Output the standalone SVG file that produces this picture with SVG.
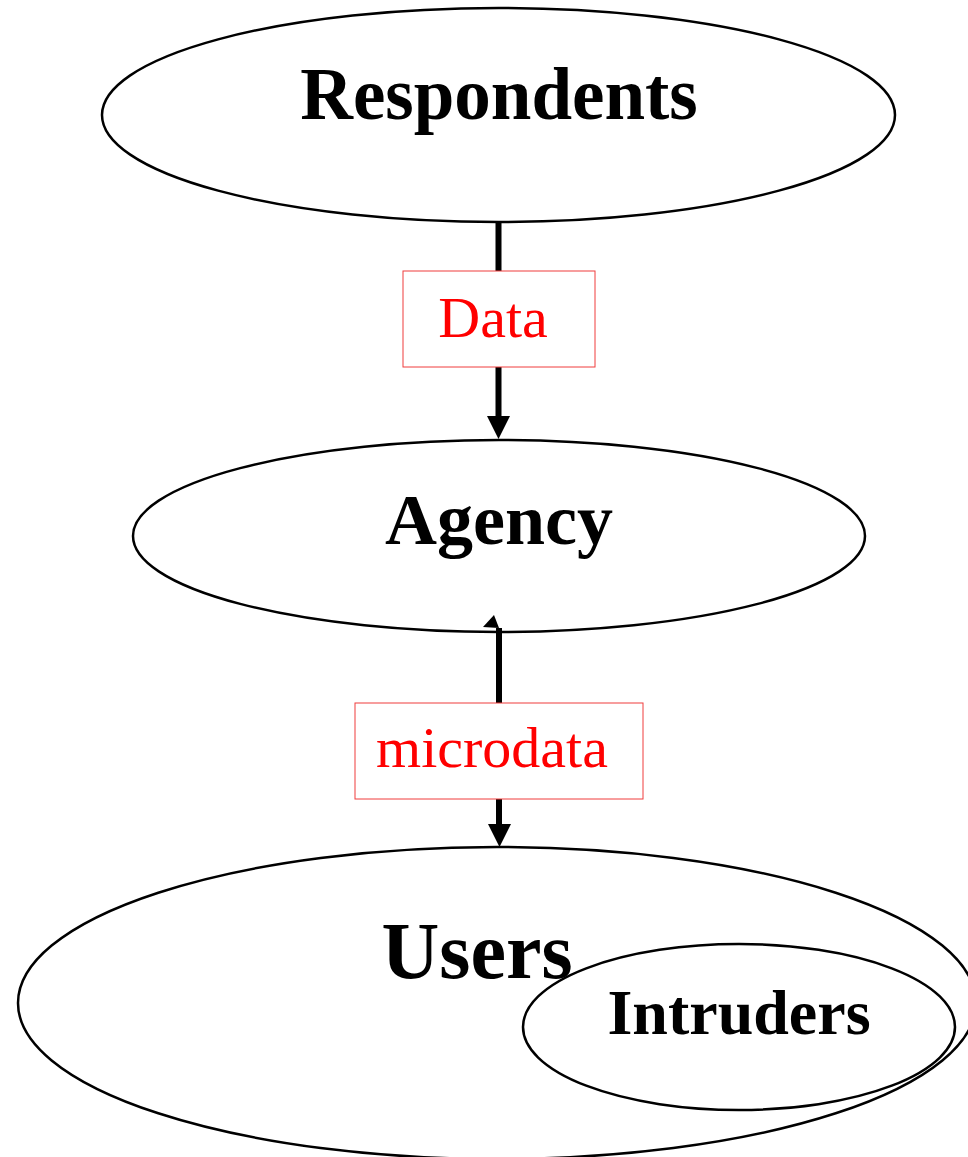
<svg xmlns="http://www.w3.org/2000/svg" width="968" height="1157" viewBox="0 0 968 1157">
  <style>
    .node { fill: #fff; stroke: #000; stroke-width: 2.5; }
    .title { font-family: "Liberation Serif", "Times New Roman", serif; font-weight: bold; fill: #000; text-anchor: middle; }
    .lbox { fill: #fff; stroke: #f03c3c; stroke-width: 1; }
    .ltext { font-family: "Liberation Serif", "Times New Roman", serif; fill: #ff0000; font-size: 58px; text-anchor: middle; }
    .edge { stroke: #000; stroke-width: 6; fill: none; }
    .head { fill: #000; }
  </style>
  <rect width="968" height="1157" fill="#fff"/>

  <g id="respondents">
    <ellipse class="node" cx="498.5" cy="115" rx="396.5" ry="107"/>
    <text class="title" x="499" y="119" font-size="73">Respondents</text>
  </g>

  <g id="agency">
    <ellipse class="node" cx="499" cy="536" rx="366" ry="96"/>
    <text class="title" x="499" y="544" font-size="72">Agency</text>
  </g>

  <g id="users">
    <ellipse class="node" cx="497" cy="1003" rx="479" ry="156"/>
    <text class="title" x="477" y="978" font-size="80">Users</text>
  </g>

  <g id="intruders">
    <ellipse class="node" stroke-width="2" cx="739" cy="1027" rx="216" ry="83"/>
    <text class="title" x="739" y="1034" font-size="64">Intruders</text>
  </g>

  <g id="connectors">
    <line class="edge" x1="498.5" y1="222" x2="498.5" y2="418"/>
    <polygon class="head" points="487,416 510,416 498.5,439"/>
    <g id="label-data">
      <rect class="lbox" x="403" y="271" width="192" height="96"/>
      <text class="ltext" x="493" y="337">Data</text>
    </g>

    <line class="edge" x1="499" y1="628" x2="499" y2="826"/>
    <polygon class="head" points="483,627 494,615 499,628"/>
    <polygon class="head" points="488,824 511,824 499.5,847"/>
    <g id="label-microdata">
      <rect class="lbox" x="355" y="703" width="288" height="96"/>
      <text class="ltext" x="492" y="767">microdata</text>
    </g>
  </g>
</svg>
